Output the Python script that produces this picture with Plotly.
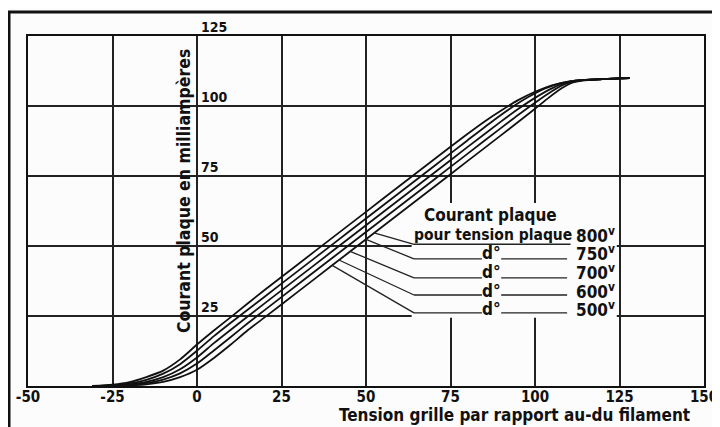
import plotly.graph_objects as go

# ---- data ----
plate_voltages = ["800", "750", "700", "600", "500"]

x_800 = [-31, -25, -20, -15, -10, -5, 0, 5, 10, 20, 30, 40, 50, 60, 70, 80, 85, 90, 95, 100, 105, 110, 115, 120, 128]
y_800 = [0, 0.5, 1.4, 3.2, 5.5, 9.5, 14.8, 19.8, 24.6, 34.3, 43.6, 52.9, 62.2, 71.5, 80.8, 90.0, 94.4, 98.4, 102.1, 105.1, 107.4, 108.7, 109.3, 109.6, 110.0]

x_750 = [-31, -25, -20, -15, -10, -5, 0, 5, 10, 20, 30, 40, 50, 60, 70, 80, 88, 93, 98, 103, 108, 112, 120, 128]
y_750 = [0, 0.2, 0.9, 2.2, 4.4, 7.8, 12.6, 17.8, 22.6, 31.9, 41.2, 50.5, 59.8, 69.1, 78.4, 87.7, 95.1, 99.4, 103.2, 106.3, 108.3, 109.1, 109.6, 110.0]

x_700 = [-31, -25, -20, -15, -10, -5, 0, 5, 10, 20, 30, 40, 50, 60, 70, 80, 90, 95, 100, 105, 109, 113, 120, 128]
y_700 = [0, 0.15, 0.6, 1.5, 3.2, 6.0, 10.2, 15.3, 20.1, 29.5, 38.8, 48.1, 57.4, 66.7, 76.0, 85.3, 94.5, 98.9, 102.9, 106.3, 108.3, 109.2, 109.6, 110.0]

x_600 = [-31, -25, -20, -15, -10, -5, 0, 5, 10, 15, 20, 30, 40, 50, 60, 70, 80, 90, 95, 100, 105, 109, 113, 120, 128]
y_600 = [0, 0.1, 0.4, 1.0, 2.3, 4.5, 8.0, 12.7, 17.5, 22.4, 27.1, 36.4, 45.7, 55.0, 64.3, 73.6, 82.9, 92.2, 96.8, 101.2, 105.3, 107.9, 109.1, 109.6, 110.0]

x_500 = [-31, -25, -20, -15, -10, -5, 0, 5, 10, 15, 20, 30, 40, 50, 60, 70, 80, 90, 95, 100, 104, 108, 111, 114, 120, 128]
y_500 = [0, 0.05, 0.2, 0.6, 1.5, 3.2, 5.8, 10.0, 14.8, 19.9, 24.5, 33.8, 43.1, 52.4, 61.7, 71.0, 80.3, 89.6, 94.3, 99.0, 102.9, 106.4, 108.3, 109.1, 109.6, 110.0]

x_tick_vals = [-50, -25, 0, 25, 50, 75, 100, 125, 150]
x_tick_text = ["-50", "-25", "0", "25", "50", "75", "100", "125", "150"]
y_tick_vals = [25, 50, 75, 100, 125]
y_tick_text = ["25", "50", "75", "100", "125"]

x_title = "Tension grille par rapport au-du filament"
y_title = "Courant plaque en milliampères"
legend_title = "Courant plaque"
legend_first = "pour tension plaque"
ditto = "d°"

series = [(x_800, y_800), (x_750, y_750), (x_700, y_700), (x_600, y_600), (x_500, y_500)]

FONT = "DejaVu Sans Condensed, Roboto Condensed, Liberation Sans Narrow, Roboto, Arial"
INK = "#111111"
BG = "#fcfcfc"

fig = go.Figure()
for name, (xs, ys) in zip(plate_voltages, series):
    fig.add_trace(go.Scatter(
        x=xs, y=ys, mode="lines", name=name + " V",
        line=dict(color=INK, width=1.8, shape="spline", smoothing=0.7),
        showlegend=False, hoverinfo="skip"))

shapes = []
# white patch behind the label block (hides grid there)
shapes.append(dict(type="rect", xref="x", yref="y", x0=63.5, x1=124.2, y0=24.4, y1=65.4,
                   fillcolor=BG, line=dict(width=0), layer="between"))

# leader lines: start on the bundle, end at the label rows
leader_start = [(52.4, 54.7), (50.0, 52.4), (45.3, 48.1), (42.0, 45.0), (40.0, 43.1)]
row_line_y = [50.6, 45.4, 38.6, 32.5, 26.1]
row_text_y = [53.8, 47.6, 40.8, 34.0, 27.6]
for (sx, sy), ly in zip(leader_start, row_line_y):
    shapes.append(dict(type="line", xref="x", yref="y", x0=sx, y0=sy, x1=64.2, y1=ly,
                       line=dict(color="#222", width=1.3)))
shapes.append(dict(type="line", xref="x", yref="y", x0=64.2, y0=row_line_y[0], x1=110.5, y1=row_line_y[0],
                   line=dict(color="#222", width=1.4)))
for ly in row_line_y[1:]:
    shapes.append(dict(type="line", xref="x", yref="y", x0=64.2, y0=ly, x1=84.3, y1=ly,
                       line=dict(color="#222", width=1.4)))
    shapes.append(dict(type="line", xref="x", yref="y", x0=90.0, y0=ly, x1=109.5, y1=ly,
                       line=dict(color="#222", width=1.4)))

# outer frame of the scanned figure (page px -> paper)
shapes.append(dict(type="rect", xref="paper", yref="paper",
                   x0=(9 - 28) / 676, x1=(718 - 28) / 676,
                   y0=(386 - 445) / 350, y1=(386 - 12) / 350,
                   line=dict(color=INK, width=3), fillcolor="rgba(0,0,0,0)", layer="above"))

annotations = []
fb = dict(family=FONT, size=14, color=INK, weight="bold")
for v, t in zip(y_tick_vals, y_tick_text):
    annotations.append(dict(x=0, y=v, xref="x", yref="y", text=t, showarrow=False,
                            xanchor="left", yanchor="bottom", xshift=2, yshift=-1, font=fb))

annotations.append(dict(x=(184 - 28) / 676, y=(386 - 191) / 350, xref="paper", yref="paper",
                        xanchor="center", yanchor="middle",
                        text=y_title, textangle=-90, showarrow=False,
                        font=dict(family=FONT, size=17.5, color=INK, weight="bold")))
annotations.append(dict(x=(514 - 28) / 676, y=(386 - 414.5) / 350, xref="paper", yref="paper",
                        xanchor="center", yanchor="middle",
                        text=x_title, showarrow=False,
                        font=dict(family=FONT, size=17, color=INK, weight="bold")))

fl = dict(family=FONT, size=17, color=INK, weight="bold")
annotations.append(dict(x=86.7, y=60.9, xref="x", yref="y", text=legend_title, showarrow=False,
                        xanchor="center", yanchor="middle", font=fl))
annotations.append(dict(x=87.6, y=row_text_y[0], xref="x", yref="y", text=legend_first, showarrow=False,
                        xanchor="center", yanchor="middle",
                        font=dict(family=FONT, size=15.5, color=INK, weight="bold")))
for ty in row_text_y[1:]:
    annotations.append(dict(x=87.2, y=ty, xref="x", yref="y", text=ditto, showarrow=False,
                            xanchor="center", yanchor="middle", font=fl))
for v, ty in zip(plate_voltages, row_text_y):
    annotations.append(dict(x=117.8, y=ty, xref="x", yref="y", text=v + "<sup>v</sup>",
                            xanchor="center", yanchor="middle", showarrow=False, font=fl))

# the page places the figure 8px from the window corner, so margins compensate
fig.update_layout(
    width=712, height=419,
    margin=dict(l=20, r=16, t=28, b=41, autoexpand=False),
    paper_bgcolor=BG, plot_bgcolor=BG,
    shapes=shapes, annotations=annotations,
    xaxis=dict(range=[-50, 150], tickvals=x_tick_vals, ticktext=x_tick_text, automargin=False,
               showgrid=True, gridcolor="#222", gridwidth=1.5, zeroline=False,
               showline=True, mirror=True, linecolor=INK, linewidth=1.6,
               ticks="", ticklabelstandoff=-4,
               tickfont=dict(family=FONT, size=15, color=INK, weight="bold")),
    yaxis=dict(range=[0, 125], tickvals=y_tick_vals, showticklabels=False, automargin=False,
               showgrid=True, gridcolor="#222", gridwidth=1.5, zeroline=False,
               showline=True, mirror=True, linecolor=INK, linewidth=1.6, ticks=""),
)

fig.write_html("out.html")
